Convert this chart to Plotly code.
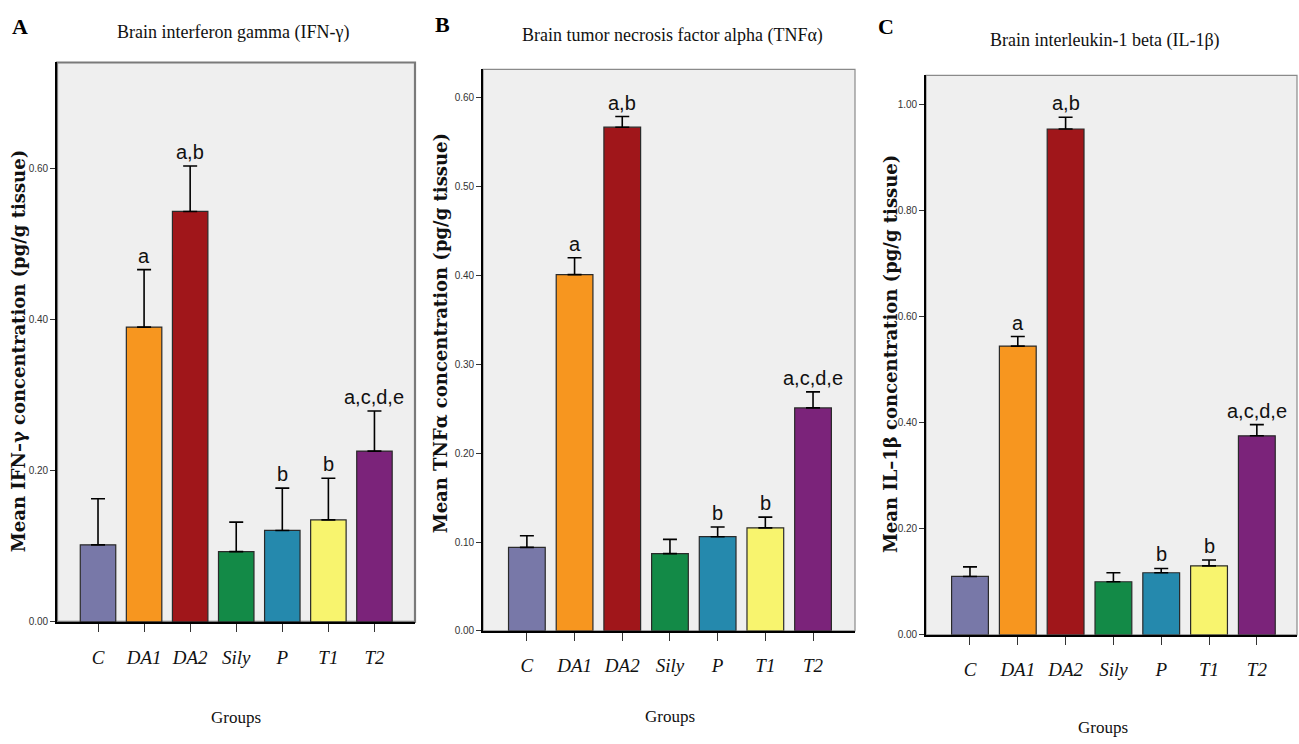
import plotly.graph_objects as go

W, H = 1299, 744

groups = ["C", "DA1", "DA2", "Sily", "P", "T1", "T2"]
bar_colors = ["#7878a8", "#f7961f", "#a0161a", "#138a47", "#2589ad", "#f8f46e", "#7b237a"]
sig_letters = ["", "a", "a,b", "", "b", "b", "a,c,d,e"]

ifn_mean = [0.102, 0.390, 0.543, 0.093, 0.121, 0.135, 0.226]
ifn_upper = [0.163, 0.466, 0.603, 0.132, 0.177, 0.190, 0.279]

tnf_mean = [0.094, 0.401, 0.567, 0.087, 0.106, 0.116, 0.251]
tnf_upper = [0.107, 0.420, 0.579, 0.103, 0.117, 0.128, 0.269]

il_mean = [0.110, 0.544, 0.953, 0.100, 0.117, 0.130, 0.375]
il_upper = [0.128, 0.562, 0.975, 0.117, 0.125, 0.141, 0.396]

titles = ["Brain interferon gamma (IFN-γ)",
          "Brain tumor necrosis factor alpha (TNFα)",
          "Brain interleukin-1 beta (IL-1β)"]
ytitles = ["Mean IFN\u2013\u03b3 concentration (pg/g tissue)",
           "Mean TNF\u03b1 concentration (pg/g tissue)",
           "Mean IL\u20131\u03b2 concentration (pg/g tissue)"]
panel_letters = ["A", "B", "C"]
xtitle = "Groups"

# panel geometry in pixels: left, right, top, bottom
boxes = [(57, 415, 63, 627), (483, 855, 70, 636), (926, 1297, 76, 640)]
xranges = [[-0.89, 6.88], [-0.92, 6.88], [-0.92, 6.84]]
yranges = [[0, 0.74], [0, 0.632], [0, 1.054]]
ytickvals = [[0, 0.2, 0.4, 0.6], [0, 0.1, 0.2, 0.3, 0.4, 0.5, 0.6], [0, 0.2, 0.4, 0.6, 0.8, 1.0]]
title_pos = [(233, 33), (672, 36), (1105, 41)]
letter_pos = [(20, 27), (442, 25), (886, 27)]
ytitle_pos = [(18, 354), (440, 336), (890, 357)]
xtitle_pos = [(236, 723), (670, 722), (1103, 733)]

means = [ifn_mean, tnf_mean, il_mean]
uppers = [ifn_upper, tnf_upper, il_upper]

fig = go.Figure()
annotations = []
shapes = []

for i in range(3):
    sfx = "" if i == 0 else str(i + 1)
    xa, ya = "x" + sfx, "y" + sfx
    m, u = means[i], uppers[i]
    fig.add_trace(go.Bar(
        x=groups, y=m, xaxis=xa, yaxis=ya,
        marker=dict(color=bar_colors, line=dict(color="#2a2a2a", width=1.2)),
        width=0.77,
        error_y=dict(type="data", symmetric=False,
                     array=[b - a for a, b in zip(m, u)],
                     arrayminus=[0] * len(m),
                     color="black", thickness=1.6, width=7),
        showlegend=False,
    ))
    l, r, t, b = boxes[i]
    fig.layout["xaxis" + sfx] = dict(
        domain=[l / W, r / W], anchor=ya, range=xranges[i], type="category",
        showline=True, linecolor="black", linewidth=1.6,
        ticks="outside", ticklen=8, tickwidth=1.2, tickcolor="#333",
        showgrid=False, zeroline=False, ticklabelstandoff=9,
        tickfont=dict(family="Liberation Serif", size=19, color="#111", style="italic"),
        fixedrange=True,
    )
    fig.layout["yaxis" + sfx] = dict(
        domain=[1 - b / H, 1 - t / H], anchor=xa, range=yranges[i],
        tickvals=ytickvals[i], tickformat=".2f",
        showline=True, linecolor="black", linewidth=1.6,
        ticks="outside", ticklen=5, tickwidth=1, tickcolor="#333",
        showgrid=False, zeroline=False,
        tickfont=dict(family="Liberation Sans Narrow, Liberation Sans", size=10, color="#333"),
        fixedrange=True,
    )
    # gray frame (top/right)
    shapes.append(dict(type="rect", xref=xa + " domain", yref=ya + " domain",
                       x0=0, x1=1, y0=0, y1=1, layer="below",
                       line=dict(color="#7a7a7a" if i == 0 else "#8a8a8a",
                                 width=2.2 if i == 0 else 1.2)))
    # significance letters
    for g, up, s in zip(groups, u, sig_letters):
        if s:
            annotations.append(dict(x=g, y=up, xref=xa, yref=ya, text=s,
                                    showarrow=False, yanchor="bottom", yshift=1,
                                    font=dict(family="Liberation Sans Narrow, Liberation Sans",
                                              size=20, color="#111")))
    tx, ty = title_pos[i]
    annotations.append(dict(x=tx / W, y=1 - ty / H, xref="paper", yref="paper",
                            text=titles[i], showarrow=False, xanchor="center", yanchor="middle",
                            font=dict(family="Liberation Serif", size=18, color="#111")))
    lx, ly = letter_pos[i]
    annotations.append(dict(x=lx / W, y=1 - ly / H, xref="paper", yref="paper",
                            text="<b>" + panel_letters[i] + "</b>", showarrow=False,
                            xanchor="center", yanchor="middle",
                            font=dict(family="Liberation Serif", size=22, color="#000")))
    yx, yy = ytitle_pos[i]
    annotations.append(dict(x=yx / W, y=1 - yy / H, xref="paper", yref="paper",
                            text="<b>" + ytitles[i] + "</b>", showarrow=False, textangle=-90,
                            xanchor="center", yanchor="middle",
                            font=dict(family="DejaVu Serif", size=18, color="#111")))
    gx, gy = xtitle_pos[i]
    annotations.append(dict(x=gx / W, y=1 - gy / H, xref="paper", yref="paper",
                            text=xtitle, showarrow=False, xanchor="center", yanchor="middle",
                            font=dict(family="Liberation Serif", size=17, color="#111")))

fig.update_layout(
    width=W, height=H, autosize=False,
    margin=dict(l=0, r=0, t=0, b=0),
    paper_bgcolor="white", plot_bgcolor="#efefef",
    bargap=0.23,
    annotations=annotations, shapes=shapes,
)

fig.write_html("out.html", config={"displayModeBar": False},
               post_script="document.body.style.margin='0px';document.body.style.overflow='hidden';")
